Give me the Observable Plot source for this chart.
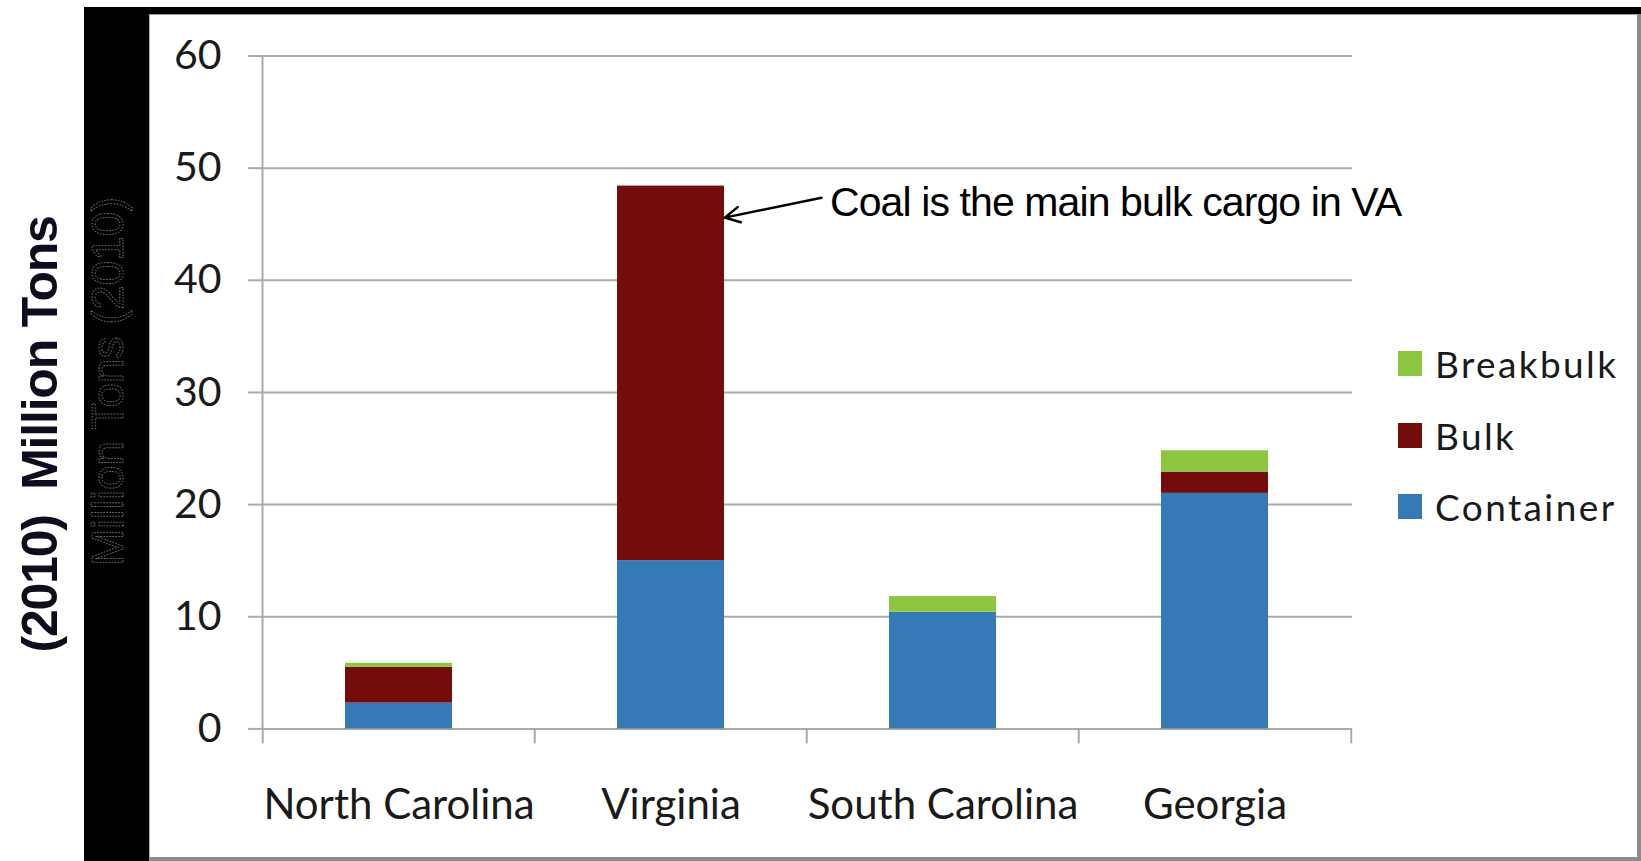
<!DOCTYPE html>
<html>
<head>
<meta charset="utf-8">
<script src="https://cdn.jsdelivr.net/npm/d3@7"></script>
<script src="https://cdn.jsdelivr.net/npm/@observablehq/plot@0.6"></script>
<style>
  html, body { margin: 0; padding: 0; background: #fff; }
  #wrap { position: relative; width: 1641px; height: 861px; overflow: hidden; background: #fff; }
  .deco { position: absolute; box-sizing: content-box; }
  #chart { position: absolute; left: 0; top: 0; }
  #legend { position: absolute; left: 1398px; top: 351px; font-family: Lato, sans-serif; color: #1a1a1a; }
  .lg-row { position: absolute; left: 0; height: 25px; white-space: nowrap; }
  .lg-sw { position: absolute; left: 0; top: 0; width: 24px; height: 25px; }
  .lg-tx { position: absolute; left: 37px; top: -6px; font-size: 37px; line-height: 37px; letter-spacing: 2.4px; }
  g[font-weight="bold"] text { letter-spacing: -1.2px; }
  g[font-size="41"][font-family="Liberation Sans"] text { letter-spacing: -0.9px; }
</style>
</head>
<body>
<div id="wrap">
  <div class="deco" style="left:84px;top:7px;width:66px;height:854px;background:#000"></div>
  <div class="deco" style="left:84px;top:7px;width:1557px;height:7px;background:#000"></div>
  <div class="deco" style="left:149px;top:14px;width:1487px;height:842px;background:#fff;border-left:1px solid #aaa;border-top:1px solid #999;border-right:4px solid #8c8c8c;border-bottom:4px solid #8c8c8c;"></div>
  <div id="chart"></div>
  <div id="legend"></div>
</div>
<script>
// ---- data ----
const states = ["North Carolina", "Virginia", "South Carolina", "Georgia"];
const types = ["Container", "Bulk", "Breakbulk"];
const container = [2.3, 15.0, 10.4, 21.0];
const bulk = [3.2, 33.4, 0, 1.9];
const breakbulk = [0.35, 0, 1.4, 1.9];
const colors = ["#357ab7", "#740c0c", "#8dc63f"];
const yTicks = [0, 10, 20, 30, 40, 50, 60];
const annotationText = ["Coal is the main bulk cargo in VA"];
const annotationState = ["Virginia"];
const annotationY = [46.9];
// arrow endpoints (tail toward the label, head on the Virginia bar)
const arrowFrom = ["South Carolina"];
const arrowTo = ["Virginia"];
const arrowY1 = [49.6];
const arrowY2 = [44.6];
const yLabel = ["(2010)  Million Tons"];
const ghostLabel = ["Million Tons (2010)"];

// ---- build table ----
const series = [container, bulk, breakbulk];
const rows = states.flatMap((s, i) => types.map((t, j) => ({state: s, type: t, value: series[j][i]})));
const annotations = annotationText.map((t, i) => ({text: t, state: annotationState[i], y: annotationY[i]}));
const arrows = arrowFrom.map((s, i) => ({x1: s, x2: arrowTo[i], y1: arrowY1[i], y2: arrowY2[i]}));

const W = 1641, H = 861, mL = 262, mR = 289, mT = 55.5, mB = 132.6;
const step = (W - mL - mR) / states.length;
const half = step / 2;
const padInner = 0.605;
const bandwidth = step * (1 - padInner);

const chart = Plot.plot({
  width: W,
  height: H,
  marginLeft: mL,
  marginRight: mR,
  marginTop: mT,
  marginBottom: mB,
  style: {background: "transparent", fontFamily: "Lato", overflow: "visible"},
  x: {domain: states, paddingInner: padInner, paddingOuter: padInner / 2},
  y: {domain: [0, 60]},
  color: {domain: types, range: colors},
  marks: [
    Plot.gridY(yTicks, {stroke: "#aaa", strokeOpacity: 1, strokeWidth: 2}),
    Plot.frame({anchor: "left", stroke: "#aaa", strokeWidth: 2}),
    Plot.axisX({tickSize: 15, fill: "none", stroke: "#aaa", strokeWidth: 2, dx: -half, label: null}),
    Plot.axisX([states[states.length - 1]], {tickSize: 15, fill: "none", stroke: "#aaa", strokeWidth: 2, dx: half, label: null}),
    Plot.axisX({tickSize: 0, tickPadding: 60, fontSize: 42, fill: "#1a1a1a", label: null}),
    Plot.axisY(yTicks, {tickSize: 14, tickPadding: 27, fontSize: 41, stroke: "#aaa", strokeWidth: 2, fill: "#1a1a1a", label: null}),
    Plot.barY(rows, {x: "state", y: "value", fill: "type", order: types}),
    Plot.arrow(arrows, {
      x1: "x1", y1: "y1", x2: "x2", y2: "y2",
      insetStart: 124, insetEnd: (bandwidth / 2) * 1.02,
      stroke: "#000", strokeWidth: 2.5, headLength: 10, headAngle: 55
    }),
    Plot.text(annotations, {
      x: "state", y: "y", text: "text", dx: 159, textAnchor: "start",
      fontFamily: "Liberation Sans", fontSize: 41, fill: "#000"
    }),
    Plot.text(yLabel, {
      frameAnchor: "left", text: d => d, dx: -222, dy: 42, rotate: -90,
      textAnchor: "middle", lineAnchor: "middle",
      fontFamily: "Liberation Sans", fontWeight: "bold", fontSize: 50, fill: "#0d0d1e"
    }),
    Plot.text(ghostLabel, {
      frameAnchor: "left", text: d => d, dx: -154, dy: -11, rotate: -90,
      textAnchor: "middle", lineAnchor: "middle",
      fontFamily: "Liberation Sans", fontSize: 44, fill: "none",
      stroke: "#6e6e6e", strokeWidth: 1, strokeDasharray: "1.6,1.4"
    })
  ]
});
document.getElementById("chart").appendChild(chart);

// ---- legend (top to bottom: Breakbulk, Bulk, Container) ----
const legend = document.getElementById("legend");
[...types].reverse().forEach((t, i) => {
  const row = document.createElement("div");
  row.className = "lg-row";
  row.style.top = (i * 71.5) + "px";
  const sw = document.createElement("div");
  sw.className = "lg-sw";
  sw.style.background = colors[types.indexOf(t)];
  const tx = document.createElement("div");
  tx.className = "lg-tx";
  tx.textContent = t;
  row.appendChild(sw);
  row.appendChild(tx);
  legend.appendChild(row);
});
</script>
</body>
</html>
